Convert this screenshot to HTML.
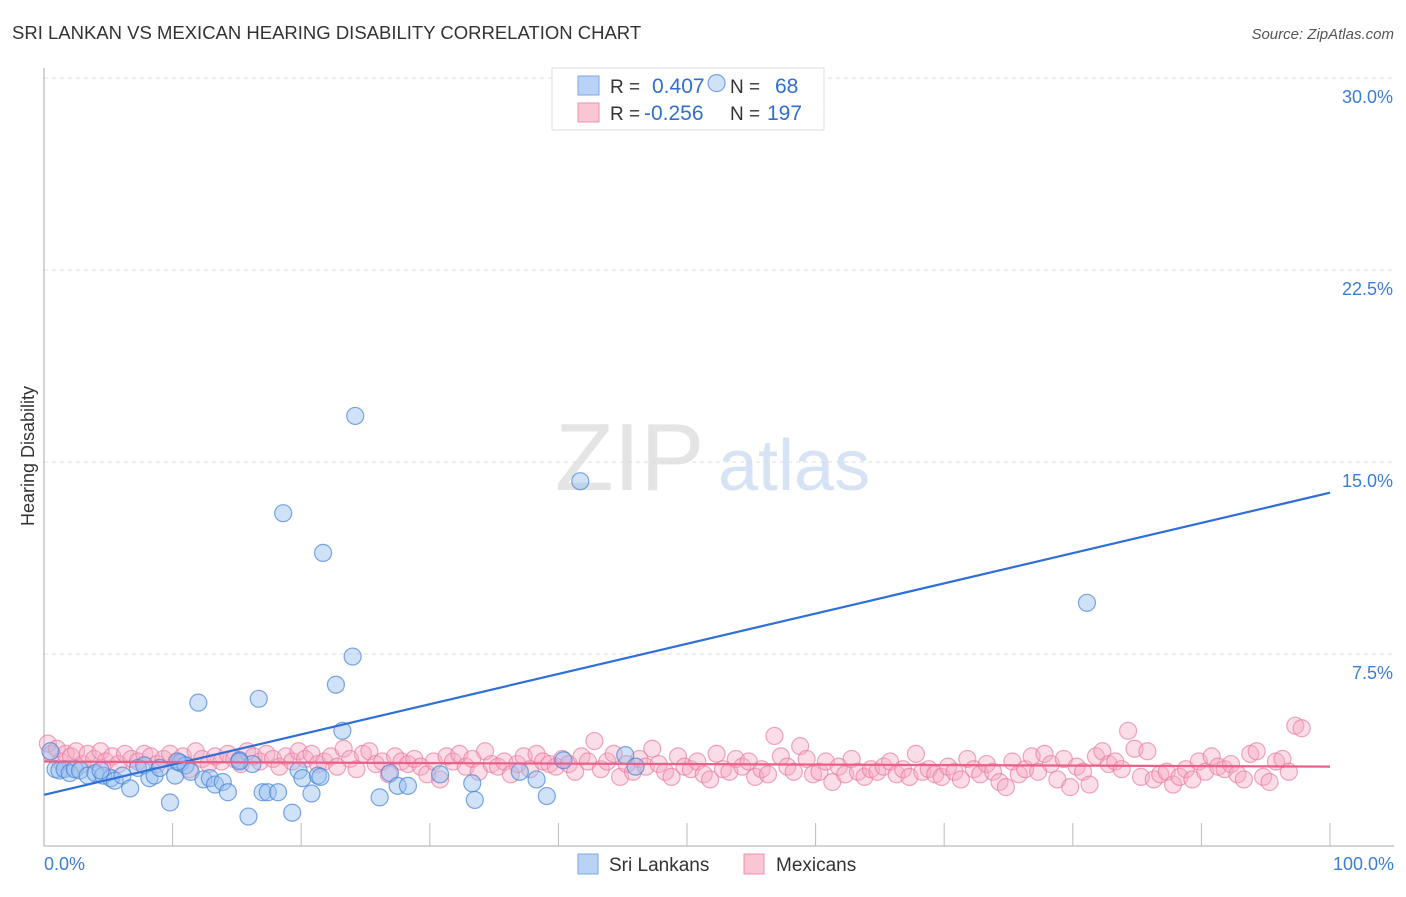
<!DOCTYPE html>
<html><head><meta charset="utf-8"><style>
body{margin:0;background:#fff;font-family:"Liberation Sans",sans-serif;}
svg text{font-family:"Liberation Sans",sans-serif;}
</style></head><body>
<svg id="c" width="1406" height="892">
<text x="12" y="39" font-size="18.5" fill="#333">SRI LANKAN VS MEXICAN HEARING DISABILITY CORRELATION CHART</text>
<text x="1394" y="39" font-size="15" fill="#555" font-style="italic" text-anchor="end">Source: ZipAtlas.com</text>
<text x="0" y="0" transform="translate(34,456) rotate(-90)" font-size="18" fill="#333" text-anchor="middle">Hearing Disability</text>
<text x="555" y="490" font-size="96" fill="#e4e4e4" font-family="Liberation Serif">ZIP</text>
<text x="718" y="490" font-size="72" fill="#d6e3f5">atlas</text>
<g id="grid"></g>
<g>
<rect x="552" y="68" width="272" height="62" fill="#fff" stroke="#ddd"/>
<rect x="578" y="76" width="21" height="19" fill="#b8d3f5" stroke="#7aa8e6"/>
<rect x="578" y="103" width="21" height="19" fill="#f9c6d3" stroke="#ee8fab"/>
<text x="610" y="93" font-size="19" fill="#333">R =</text><text x="652" y="93" font-size="21" fill="#2f6fd0">0.407</text>
<text x="730" y="93" font-size="19" fill="#333">N =</text><text x="775" y="93" font-size="21" fill="#2f6fd0">68</text>
<text x="610" y="120" font-size="19" fill="#333">R =</text><text x="644" y="120" font-size="21" fill="#2f6fd0">-0.256</text>
<text x="730" y="120" font-size="19" fill="#333">N =</text><text x="767" y="120" font-size="21" fill="#2f6fd0">197</text>
</g>
<g id="pts"></g><g id="lines"></g>
<g>
<rect x="578" y="854" width="20" height="20" fill="#b8d3f5" stroke="#7aa8e6"/>
<text x="609" y="871" font-size="19" fill="#333">Sri Lankans</text>
<rect x="744" y="854" width="20" height="20" fill="#f9c6d3" stroke="#ee8fab"/>
<text x="776" y="871" font-size="19" fill="#333">Mexicans</text>
</g>
<text x="44" y="870" font-size="18" fill="#3b7dd8">0.0%</text>
<text x="1394" y="870" font-size="18" fill="#3b7dd8" text-anchor="end">100.0%</text>
</svg>
<script>
const yTicks=[7.5,15,22.5,30];
const yTickLabels=["7.5%","15.0%","22.5%","30.0%"];
const xTicks=[10,20,30,40,50,60,70,80,90,100];
const sriX=[0.5,0.9,1.2,1.6,2,2.4,2.8,3.4,4,4.6,5.2,5.5,6.1,6.7,7.3,7.8,8.2,8.6,9,9.8,10.2,10.6,11,11.4,12,12.4,12.9,13.3,13.9,14.3,15.2,15.9,16.2,16.7,17,17.4,18.2,18.6,19.3,19.8,20.1,20.8,21.3,21.7,22.7,23.2,24,24.2,26.1,26.9,27.5,28.3,30.8,33.3,33.5,37,38.3,39.1,41.7,45.2,46,52.3,81.1,40.4,21.5,10.4,15.2,4.4];
const sriY=[3.7,3.0,2.95,3.0,2.85,3.0,2.95,2.75,2.85,2.75,2.65,2.55,2.75,2.25,3.05,3.15,2.65,2.75,3.05,1.7,2.75,3.25,3.15,2.9,5.6,2.6,2.65,2.4,2.5,2.1,3.35,1.15,3.2,5.75,2.1,2.1,2.1,13,1.3,2.95,2.65,2.05,2.75,11.45,6.3,4.5,7.4,16.8,1.9,2.85,2.35,2.35,2.8,2.45,1.8,2.9,2.6,1.95,14.25,3.55,3.1,29.8,9.5,3.35,2.7,3.3,3.3,2.95];
const mexX=[0.3,0.6,1,1.3,1.7,2.1,2.5,3,3.4,3.9,4.4,4.8,5.3,5.8,6.3,6.8,7.3,7.8,8.3,8.8,9.3,9.8,10.3,10.8,11.3,11.8,12.3,12.8,13.3,13.8,14.3,14.8,15.3,15.8,16.3,16.8,17.3,17.8,18.3,18.8,19.3,19.8,20.3,20.8,21.3,21.8,22.3,22.8,23.3,23.8,24.3,24.8,25.3,25.8,26.3,26.8,27.3,27.8,28.3,28.8,29.3,29.8,30.3,30.8,31.3,31.8,32.3,32.8,33.3,33.8,34.3,34.8,35.3,35.8,36.3,36.8,37.3,37.8,38.3,38.8,39.3,39.8,40.3,40.8,41.3,41.8,42.3,42.8,43.3,43.8,44.3,44.8,45.3,45.8,46.3,46.8,47.3,47.8,48.3,48.8,49.3,49.8,50.3,50.8,51.3,51.8,52.3,52.8,53.3,53.8,54.3,54.8,55.3,55.8,56.3,56.8,57.3,57.8,58.3,58.8,59.3,59.8,60.3,60.8,61.3,61.8,62.3,62.8,63.3,63.8,64.3,64.8,65.3,65.8,66.3,66.8,67.3,67.8,68.3,68.8,69.3,69.8,70.3,70.8,71.3,71.8,72.3,72.8,73.3,73.8,74.3,74.8,75.3,75.8,76.3,76.8,77.3,77.8,78.3,78.8,79.3,79.8,80.3,80.8,81.3,81.8,82.3,82.8,83.3,83.8,84.3,84.8,85.3,85.8,86.3,86.8,87.3,87.8,88.3,88.8,89.3,89.8,90.3,90.8,91.3,91.8,92.3,92.8,93.3,93.8,94.3,94.8,95.3,95.8,96.3,96.8,97.3,97.8];
const mexY=[4.0,3.6,3.8,3.3,3.6,3.5,3.7,3.2,3.6,3.4,3.7,3.3,3.5,3.2,3.6,3.4,3.3,3.6,3.5,3.2,3.4,3.6,3.3,3.5,3.0,3.7,3.4,3.2,3.5,3.3,3.6,3.4,3.2,3.7,3.5,3.3,3.6,3.4,3.1,3.5,3.3,3.7,3.4,3.6,3.2,3.3,3.5,3.1,3.8,3.4,3.0,3.6,3.7,3.2,3.3,2.8,3.5,3.3,3.2,3.4,3.1,2.8,3.3,2.6,3.5,3.3,3.6,3.1,3.4,2.9,3.7,3.2,3.1,3.3,2.8,3.2,3.5,3.0,3.6,3.3,3.2,3.1,3.4,3.2,2.9,3.5,3.3,4.1,3.0,3.3,3.6,2.7,3.2,2.9,3.4,3.1,3.8,3.2,2.9,2.7,3.5,3.1,3.0,3.3,2.8,2.6,3.6,3.0,2.9,3.4,3.1,3.3,2.7,3.0,2.8,4.3,3.5,3.1,2.9,3.9,3.4,2.8,2.9,3.3,2.5,3.1,2.8,3.4,2.9,2.7,3.0,2.9,3.1,3.3,2.8,3.0,2.7,3.6,2.9,3.0,2.8,2.7,3.1,2.9,2.6,3.4,3.0,2.8,3.2,2.9,2.5,2.3,3.3,2.8,3.0,3.5,2.9,3.6,3.2,2.6,3.4,2.3,3.1,2.9,2.4,3.5,3.7,3.2,3.3,3.0,4.5,3.8,2.7,3.7,2.6,2.8,2.9,2.4,2.7,3.0,2.6,3.3,2.9,3.5,3.1,3.0,3.2,2.8,2.6,3.6,3.7,2.7,2.5,3.3,3.4,2.9,4.7,4.6,2.8,3.1,3.6,3.9,4.2,3.2];
const sriTrend=[2.0,13.8], mexTrend=[3.3,3.1];
const X=v=>44+v*12.86, Y=v=>846-v*25.6;
const NS="http://www.w3.org/2000/svg";
function mk(p,t,a){const e=document.createElementNS(NS,t);for(const k in a)e.setAttribute(k,a[k]);p.appendChild(e);return e;}
const grid=document.getElementById('grid'),pts=document.getElementById('pts'),lines=document.getElementById('lines');
yTicks.forEach((t,i)=>{
 const g=mk(grid,'line',{x1:44,x2:1394,y1:Y(t),y2:Y(t),stroke:'#ddd','stroke-dasharray':'4,4'});
 
 
 const l=mk(grid,'text',{x:1393,y:Y(t)+25,'font-size':18,fill:'#3b7dd8','text-anchor':'end'});
 l.textContent=yTickLabels[i];
 
 
});
const ax=mk(grid,'line',{x1:44,x2:44,y1:68,y2:846,stroke:'#aaa'});


const bx=mk(grid,'line',{x1:44,x2:1394,y1:846,y2:846,stroke:'#aaa'});


xTicks.forEach(t=>{
 const k=mk(grid,'line',{x1:X(t),x2:X(t),y1:823,y2:846,stroke:'#bbb'});
 
 
});
mexX.forEach((x,i)=>{
 const c=mk(pts,'circle',{cx:X(x),cy:Y(mexY[i]),r:8.5,fill:'rgba(246,170,194,0.4)',stroke:'rgba(232,120,155,0.65)','stroke-width':1.2});
 
 
});
sriX.forEach((x,i)=>{
 const c=mk(pts,'circle',{cx:X(x),cy:Y(sriY[i]),r:8.5,fill:'rgba(150,190,240,0.45)',stroke:'rgba(70,130,215,0.7)','stroke-width':1.2});
 
 
});
const l1=mk(lines,'line',{x1:X(0),y1:Y(sriTrend[0]),x2:X(100),y2:Y(sriTrend[1]),stroke:'#2f6fd8','stroke-width':2.2});


const l2=mk(lines,'line',{x1:X(0),y1:Y(mexTrend[0]),x2:X(100),y2:Y(mexTrend[1]),stroke:'#ea5f8a','stroke-width':2.2});


</script>
</body></html>
